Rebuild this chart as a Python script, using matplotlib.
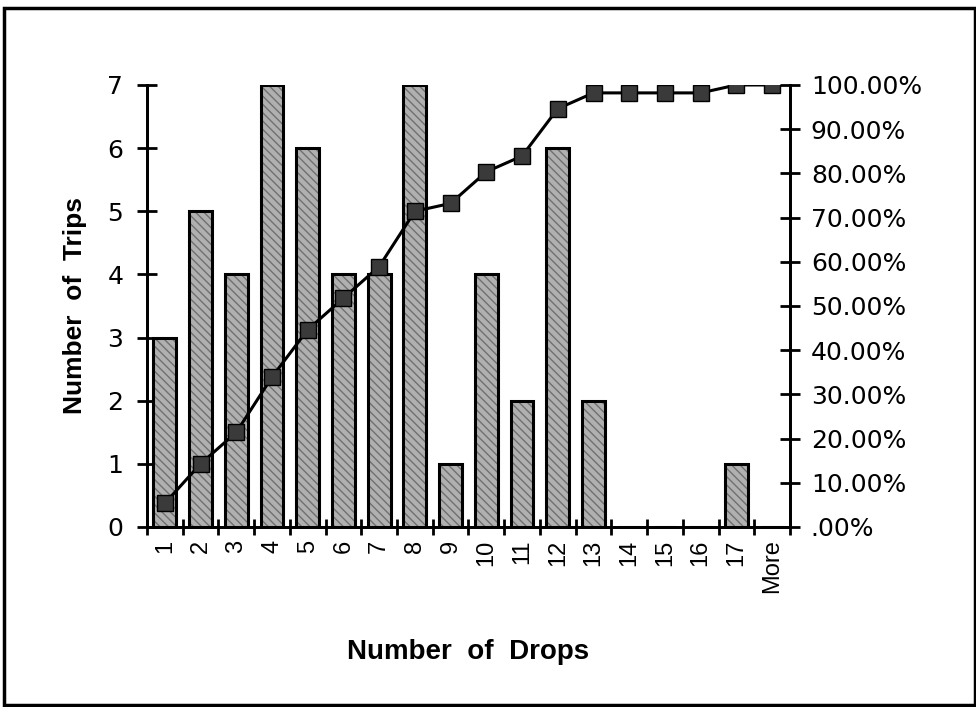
import numpy as np
import matplotlib.pyplot as plt
from matplotlib.patches import Rectangle
from matplotlib.ticker import FixedLocator, FuncFormatter

# Histogram of drops per trip, with the cumulative share on the right axis
drops = ['1', '2', '3', '4', '5', '6', '7', '8', '9', '10', '11', '12',
         '13', '14', '15', '16', '17', 'More']
trips = [3, 5, 4, 7, 6, 4, 4, 7, 1, 4, 2, 6, 2, 0, 0, 0, 1, 0]
cum_pct = [0.0536, 0.1429, 0.2143, 0.3393, 0.4464, 0.5179, 0.5893, 0.7143,
           0.7321, 0.8036, 0.8393, 0.9464, 0.9821, 0.9821, 0.9821, 0.9821,
           1.0, 1.0]

plt.rcParams['font.family'] = ['Liberation Sans', 'DejaVu Sans']
tick_font = 'DejaVu Sans'

fig = plt.figure(figsize=(9.76, 7.07), dpi=100)
ax = fig.add_axes([0.1506, 0.2546, 0.6588, 0.6252])
x = np.arange(1, len(drops) + 1)

# textured grey fill, then black outline on top
ax.bar(x, trips, width=0.64, color='#b0b0b0', edgecolor='#707070',
       hatch='\\\\\\\\', linewidth=0, zorder=2)
ax.bar(x, trips, width=0.64, fill=False, edgecolor='black',
       linewidth=2.2, zorder=3)

ax.set_xlim(0.5, len(drops) + 0.5)
ax.set_ylim(0, 7)
ax.set_yticks(range(0, 8))
ax.set_xticks(x)
ax.set_xticklabels(drops, rotation=90, fontsize=17)
ax.xaxis.set_minor_locator(FixedLocator(np.arange(0.5, len(drops) + 1, 1)))
ax.tick_params(axis='x', which='major', length=0, pad=9)
ax.tick_params(axis='x', which='minor', length=12, width=2, direction='inout')
ax.tick_params(axis='y', length=14, width=2, direction='inout',
               labelsize=18, pad=10)
for t in ax.get_yticklabels():
    t.set_family(tick_font)
for s in ['left', 'bottom', 'right']:
    ax.spines[s].set_linewidth(2)
ax.spines['top'].set_visible(False)

ax.set_ylabel('Number  of  Trips', fontsize=19, fontweight='bold', labelpad=15)
ax.set_xlabel('Number  of  Drops', fontsize=20, fontweight='bold', labelpad=33)

# cumulative percentage line
ax2 = ax.twinx()
ax2.set_ylim(0, 1)
ax2.plot(x, cum_pct, color='black', linewidth=2.2, marker='s',
         markersize=12, markerfacecolor='#3a3a3a', markeredgecolor='black',
         zorder=5)
ax2.set_yticks(np.arange(0, 1.01, 0.1))
ax2.yaxis.set_major_formatter(
    FuncFormatter(lambda v, p: '.00%' if v < 0.001 else f'{v * 100:.2f}%'))
ax2.tick_params(axis='y', length=14, width=2, direction='inout',
                labelsize=18, pad=8)
for t in ax2.get_yticklabels():
    t.set_family(tick_font)
for s in ['left', 'bottom', 'right']:
    ax2.spines[s].set_linewidth(2)
ax2.spines['top'].set_visible(False)

# outer frame
fig.patches.append(Rectangle((0.004, 0.003), 0.995, 0.985,
                             transform=fig.transFigure, fill=False,
                             edgecolor='black', linewidth=2.5))

fig.savefig('out.png', dpi=100)
